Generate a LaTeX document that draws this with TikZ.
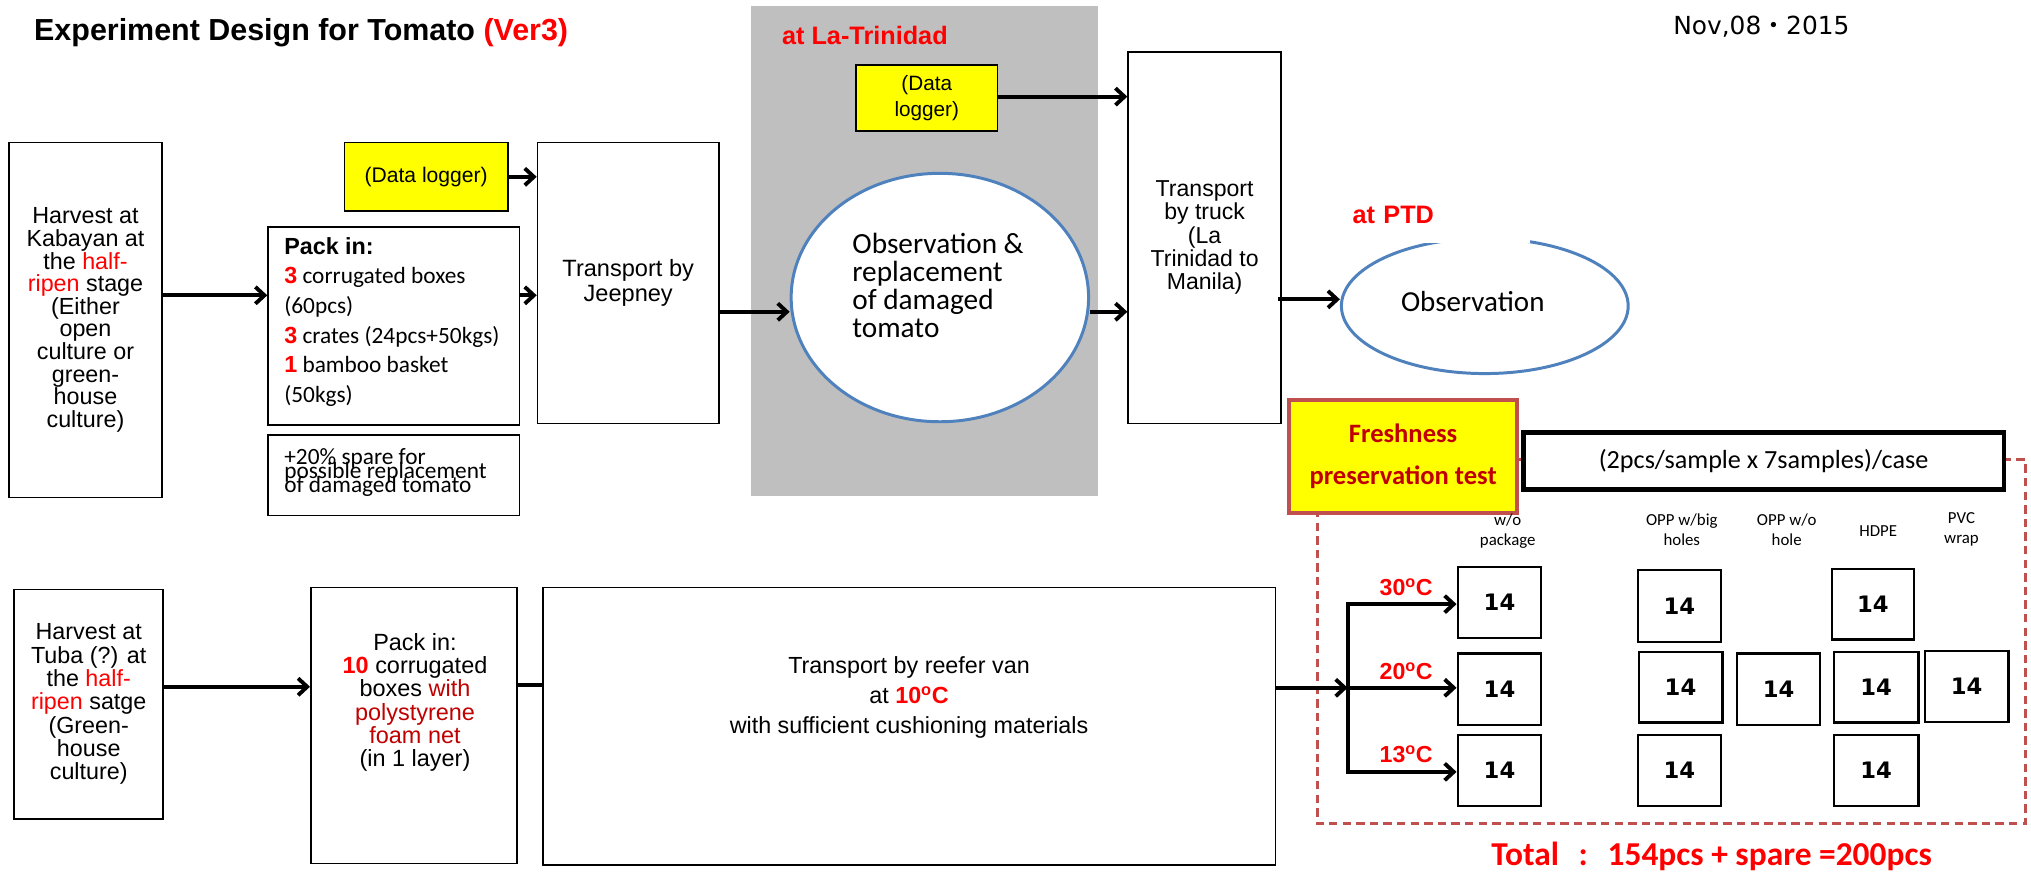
\documentclass[tikz,border=0pt]{standalone}
\usepackage{fontspec}
\setmainfont{Liberation Sans}
\newfontfamily\calfont{Carlito}
\newfontfamily\dvfont{DejaVu Sans}
\newfontfamily\jpfont{Noto Sans CJK JP}
\usetikzlibrary{arrows.meta,shapes.geometric}
\definecolor{greybg}{HTML}{BFBFBF}
\definecolor{ylw}{HTML}{FFFF00}
\definecolor{obsblue}{HTML}{4F81BD}
\definecolor{brightred}{HTML}{FF0000}
\definecolor{darkred}{HTML}{C00000}
\definecolor{framered}{HTML}{C0504D}
\newcommand\fsz[2]{\fontsize{#1pt}{#2pt}\selectfont\lineskiplimit=-100pt\relax}
\newcommand\rd[1]{\textcolor{brightred}{#1}}
\newcommand\drd[1]{\textcolor{darkred}{#1}}
\newcommand\degc{\textsuperscript{o}C}
\begin{document}
\begin{tikzpicture}[x=1pt,y=-1pt,line join=miter,
  box/.style={draw=black,line width=1.3pt,fill=white,inner sep=0pt,align=center},
  logger/.style={box,fill=ylw},
  arr/.style={line width=3pt,-{Straight Barb[length=7pt,width=13pt]}},
  plain/.style={line width=3pt},
  cell/.style={draw=black,line width=1.6pt,fill=white,inner sep=0pt,font=\dvfont\bfseries\fsz{17.5}{20}},
  hdr/.style={font=\calfont\fsz{13}{15.4},align=center,inner sep=0pt},
  redlab/.style={text=brightred,font=\bfseries\fsz{19.5}{22},inner sep=0pt},
  templab/.style={text=brightred,font=\bfseries\fsz{17.9}{20},inner sep=0pt,anchor=base east},
  obs/.style={ellipse,draw=obsblue,line width=2.3pt,fill=white,inner sep=0pt}]
\useasboundingbox (0,0) rectangle (1568,673);

% shaded area for the La Trinidad stage
\fill[greybg] (580,5) rectangle (848,383);

% frame of the freshness preservation test
\draw[framered,line width=2.3pt,dash pattern=on 6.5pt off 4pt]
  (1168,355) -- (1563.5,355) -- (1563.5,636) -- (1017,636) -- (1017,355) -- cycle;

% title and date
\node[anchor=base west,inner sep=0pt,font=\bfseries\fsz{23.5}{26}] (title) at (26.2,30.9)
  {Experiment Design for Tomato \textcolor{brightred}{(Ver3)}};
\node[anchor=base west,inner sep=0pt,font=\dvfont\fsz{19.2}{22}] (date) at (1291.6,26.5)
  {Nov,08{\jpfont ・}2015};

% ---- upper route: Kabayan ----
\node[box,minimum width=118pt,minimum height=274pt,font=\fsz{18}{17.44}] (h1) at (66,247)
  {Harvest at\\Kabayan at\\the \rd{half-}\\\rd{ripen} stage\\(Either\\open\\culture or\\green-\\house\\culture)};
\node[logger,minimum width=126pt,minimum height=53pt,font=\fsz{16.3}{18}] (d1) at (329,136.5) {(Data logger)};
\node[box,minimum width=194pt,minimum height=153pt] (p1) at (304,251.5) {};
\node[anchor=west,align=left,inner sep=0pt,font=\calfont\fsz{18}{22.9}] (p1t) at (219.3,248.5)
  {{\rmfamily\bfseries Pack in:}\\
   {\rmfamily\bfseries\color{brightred}3} corrugated boxes\\
   (60pcs)\\
   {\rmfamily\bfseries\color{brightred}3} crates (24pcs+50kgs)\\
   {\rmfamily\bfseries\color{brightred}1} bamboo basket\\
   (50kgs)};
\node[box,minimum width=194pt,minimum height=62pt] (sp) at (304,367) {};
\node[anchor=west,align=left,inner sep=0pt,font=\calfont\fsz{18}{11}] (spt) at (219.3,364.8)
  {+20\% spare for\\possible replacement\\of damaged tomato};
\node[box,minimum width=140pt,minimum height=217pt,font=\fsz{18.2}{19.8}] (j1) at (485,218.5)
  {Transport by\\Jeepney};

\node[redlab,anchor=base west] (latri) at (603.6,34.7) {at La-Trinidad};
\node[logger,minimum width=109pt,minimum height=51pt,font=\fsz{16}{20}] (d2) at (715.5,75.5) {(Data\\logger)};
\node[obs,minimum width=229.6pt,minimum height=191.8pt] (e1) at (725.6,229.7) {};
\node[font=\calfont\fsz{22.6}{21.5},align=left,inner sep=0pt] (e1t) at (724.2,220.5)
  {Observation \&\\replacement\\of damaged\\tomato};

\node[box,minimum width=118pt,minimum height=287pt,font=\fsz{17.8}{18}] (t1) at (930,183.5)
  {Transport\\by truck\\(La\\Trinidad to\\Manila)};

\node[obs,minimum width=221.4pt,minimum height=104.4pt] (e2) at (1146.3,236.2) {};
\node[font=\calfont\fsz{22.4}{24},anchor=base,inner sep=0pt] (e2t) at (1137,240.7) {Observation};
\node[text=brightred,font=\bfseries\fsz{19.5}{22},anchor=base west,fill=white,align=left,
  text width=133pt,inner xsep=4pt,inner ysep=0pt,text height=14pt,text depth=15.4pt] (ptd) at (1040,172.4) {at PTD};

% ---- lower route: Tuba ----
\node[box,minimum width=115pt,minimum height=177.4pt,font=\fsz{18}{18}] (h2) at (68.5,543.7)
  {Harvest at\\Tuba (?) at\\the \rd{half-}\\\rd{ripen} satge\\(Green-\\house\\culture)};
\node[box,minimum width=159.3pt,minimum height=213.2pt] (p2) at (319.65,560.1) {};
\node[font=\fsz{18.1}{18},align=center,inner sep=0pt] (p2t) at (320.4,542.4)
  {Pack in:\\{\bfseries\color{brightred}10} corrugated\\boxes \drd{with}\\\drd{polystyrene}\\\drd{foam net}\\(in 1 layer)};
\node[box,minimum width=565.3pt,minimum height=214.5pt] (rv) at (701.95,560.75) {};
\node[font=\fsz{18}{23},align=center,inner sep=0pt] (rvt) at (701.8,538.6)
  {Transport by reefer van\\at {\bfseries\color{brightred}10\degc}\\with sufficient cushioning materials};

% ---- freshness preservation test ----
\node[draw=framered,line width=3pt,fill=ylw,minimum width=176.5pt,minimum height=87pt,
  font=\calfont\bfseries\fsz{20.5}{32.2},text=darkred,align=center,inner sep=0pt] (fresh) at (1083.25,352.5)
  {Freshness\\preservation test};
\node[draw=black,line width=3.5pt,fill=white,minimum width=371pt,minimum height=44pt,
  font=\calfont\fsz{20.2}{24},inner sep=0pt] (case) at (1361.5,356) {(2pcs/sample x 7samples)/case};

\node[hdr] (hw) at (1164,410) {w/o\\package};
\node[hdr] (hb) at (1298.4,409) {OPP w/big\\holes};
\node[hdr] (hn) at (1379.4,409) {OPP w/o\\hole};
\node[hdr,anchor=base] (hh) at (1450,414.4) {HDPE};
\node[hdr] (hp) at (1514.3,409) {PVC\\wrap};

\node[cell,minimum width=64.7pt,minimum height=54.8pt] (g11) at (1157.65,465) {14};
\node[cell,minimum width=64.5pt,minimum height=55.3pt] (g12) at (1296.55,467.85) {14};
\node[cell,minimum width=62.9pt,minimum height=54.3pt] (g14) at (1445.95,466.55) {14};
\node[cell,minimum width=64.7pt,minimum height=55.3pt] (g21) at (1157.65,532.15) {14};
\node[cell,minimum width=64.8pt,minimum height=54.1pt] (g22) at (1297.4,530.75) {14};
\node[cell,minimum width=64.3pt,minimum height=55.3pt] (g23) at (1373.15,532.15) {14};
\node[cell,minimum width=65.5pt,minimum height=54.1pt] (g24) at (1448.35,530.75) {14};
\node[cell,minimum width=64.7pt,minimum height=54.8pt] (g25) at (1518.25,529.9) {14};
\node[cell,minimum width=64.7pt,minimum height=54.5pt] (g31) at (1157.65,594.85) {14};
\node[cell,minimum width=64.5pt,minimum height=54.5pt] (g32) at (1296.55,594.85) {14};
\node[cell,minimum width=65.5pt,minimum height=54.8pt] (g34) at (1448.35,595) {14};

\node[templab] (t30) at (1106.3,459.5) {30\degc};
\node[templab] (t20) at (1106.3,524.6) {20\degc};
\node[templab] (t13) at (1106.3,589) {13\degc};

\node[anchor=base west,inner sep=0pt,text=brightred,font=\calfont\bfseries\fsz{25.8}{28}] (total) at (1151.2,668)
  {Total\hspace{0.59em}:\hspace{0.59em}154pcs + spare =200pcs};

% ---- connectors ----
\coordinate (lvA) at (0,228);
\coordinate (lvB) at (0,240.7);
\coordinate (lvC) at (0,74.6);
\coordinate (lvD) at (0,231.1);
\coordinate (lvE) at (0,530.2);
\coordinate (lvF) at (0,529);
\coordinate (br30) at (1040.4,466.4);
\coordinate (br20) at (1040.4,531);
\coordinate (br13) at (1040.4,595.9);

\draw[arr] (h1.east |- lvA) -- (p1.west |- lvA);
\draw[arr] (d1.east) -- (d1.east -| j1.west);
\draw[arr] (p1.east |- lvA) -- (j1.west |- lvA);
\draw[arr] (j1.east |- lvB) -- (e1.west |- lvB);
\draw[arr] (e1.east |- lvB) -- (t1.west |- lvB);
\draw[arr] (d2.east |- lvC) -- (t1.west |- lvC);
\draw[arr] ([xshift=-3pt]t1.east |- lvD) -- (e2.west |- lvD);

\draw[arr] (h2.east |- lvE) -- (p2.west |- lvE);
\draw[plain] (p2.east |- lvF) -- (rv.west |- lvF);
\draw[arr] (rv.east |- br20) -- (br20);
\draw[arr] (br20) -- (br30) -- (g11.west |- br30);
\draw[arr] (br20) -- (g21.west |- br20);
\draw[arr] (br20) -- (br13) -- (g31.west |- br13);
\end{tikzpicture}
\end{document}
